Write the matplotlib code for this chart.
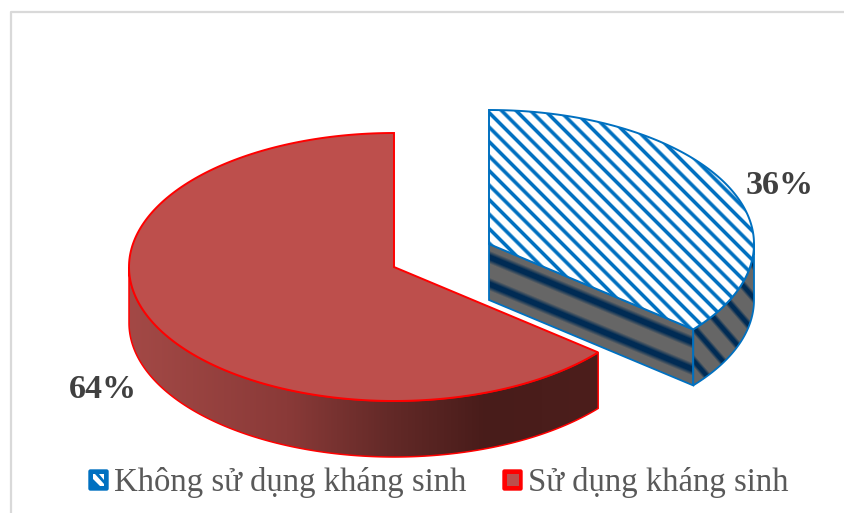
import numpy as np
import matplotlib
matplotlib.use("Agg")
import matplotlib.pyplot as plt
from matplotlib.patches import Polygon, FancyBboxPatch, Rectangle
from matplotlib.colors import LinearSegmentedColormap

# --------------------------------------
# DATA
# --------------------------------------

labels = ["Không sử dụng kháng sinh", "Sử dụng kháng sinh"]
shares = [36, 64]
share_labels = ["36%", "64%"]

plt.rcParams["font.family"] = ["Liberation Serif", "DejaVu Serif"]

# pie geometry, in pixels of the picture
RX, RY, DEPTH = 265, 134, 56
BLUE_C = (489, 244)
RED_C = (394, 267)
BLUE, RED, TOP_RED = "#0070c0", "#ff0000", "#bd4f4c"

fig = plt.figure(figsize=(8.45, 5.13), dpi=100)
ax = fig.add_axes([0, 0, 1, 1])
ax.set_xlim(0, 845)
ax.set_ylim(513, 0)
ax.axis("off")

# outer frame
ax.plot([11, 11, 845], [513, 12, 12], color="#d9d9d9", lw=1.6)


def arc(center, a0, a1, dy=0, n=200):
    # angles clockwise from north, in degrees
    t = np.radians(np.linspace(a0, a1, n))
    return np.column_stack([center[0] + RX * np.sin(t), center[1] - RY * np.cos(t) + dy])


cut = shares[0] / sum(shares) * 360
extent = (0, 845, 513, 0)
yy, xx = np.mgrid[0:513, 0:845] + 0.5


def bands(u, period):
    # soft dark stripes: 0 is grey, 1 is navy
    d = np.abs((u / period + 0.5) % 1 - 0.5) * period
    return np.clip(1.5 - d / 4.5, 0, 1)


grey = np.array([0.40, 0.40, 0.40])
navy = np.array([0.0, 0.17, 0.33])


def shade(m):
    return grey + m[..., None] * (navy - grey)


# --------------------------------------
# BLUE SLICE
# --------------------------------------

tip = arc(BLUE_C, cut, cut, n=1)[0]
slope = (tip[1] - BLUE_C[1]) / (tip[0] - BLUE_C[0])

# cut face, stripes run along the edge
front = [BLUE_C, tuple(tip), (tip[0], tip[1] + DEPTH), (BLUE_C[0], BLUE_C[1] + DEPTH)]
u = yy - (BLUE_C[1] + slope * (xx - BLUE_C[0])) - 13
im = ax.imshow(shade(bands(u, 27)), extent=extent, aspect="auto", zorder=2, interpolation="bilinear")
ax.add_patch(Polygon(front, closed=True, fc="none", ec=BLUE, lw=1.3, zorder=3))
im.set_clip_path(Polygon(front, closed=True, transform=ax.transData))

# round side
top = arc(BLUE_C, 90, cut)
rim = np.vstack([top, arc(BLUE_C, cut, 90, dy=DEPTH)])
im = ax.imshow(shade(bands(yy - 1.15 * xx + 503, 33)), extent=extent, aspect="auto", zorder=2, interpolation="bilinear")
im.set_clip_path(Polygon(rim, closed=True, transform=ax.transData))
ax.add_patch(Polygon(rim, closed=True, fc="none", ec=BLUE, lw=1.3, zorder=3))

# top face, white with diagonal stripes
face = np.vstack([[BLUE_C], arc(BLUE_C, 0, cut)])
d = np.abs(((yy - xx + 362) / 14.5 + 0.5) % 1 - 0.5) * 14.5
stripe = np.clip((3.6 - d) / 2.1, 0, 1)
white = np.array([1.0, 1.0, 1.0])
blue_rgb = np.array(matplotlib.colors.to_rgb(BLUE))
im = ax.imshow(white + stripe[..., None] * (blue_rgb - white), extent=extent, aspect="auto", zorder=4, interpolation="bilinear")
im.set_clip_path(Polygon(face, closed=True, transform=ax.transData))
ax.add_patch(Polygon(face, closed=True, fc="none", ec=BLUE, lw=1.4, zorder=5))

# --------------------------------------
# RED SLICE
# --------------------------------------

side = np.vstack([arc(RED_C, cut, 270), arc(RED_C, 270, cut, dy=DEPTH)])
red_side = LinearSegmentedColormap.from_list(
    "red_side",
    [(0, "#a34946"), (0.337, "#8a3a38"), (0.55, "#642a28"), (0.763, "#481c1a"), (1, "#4c1e1c")],
)
grad = np.linspace(0, 1, 256).reshape(1, -1)
im = ax.imshow(red_side(grad), extent=(129, 598, RED_C[1] + RY + DEPTH, RED_C[1]), aspect="auto", zorder=6)
im.set_clip_path(Polygon(side, closed=True, transform=ax.transData))
ax.add_patch(Polygon(side, closed=True, fc="none", ec=RED, lw=1.1, zorder=7))

face = np.vstack([[RED_C], arc(RED_C, cut, 360)])
ax.add_patch(Polygon(face, closed=True, fc=TOP_RED, ec=RED, lw=1.4, zorder=8))

ax.set_xlim(0, 845)
ax.set_ylim(513, 0)

# --------------------------------------
# LABELS AND LEGEND
# --------------------------------------

ax.text(780, 186, share_labels[0], fontsize=24.5, fontweight="bold", color="#404040", ha="center", va="center", zorder=10)
ax.text(103, 389, share_labels[1], fontsize=24.5, fontweight="bold", color="#404040", ha="center", va="center", zorder=10)

ax.add_patch(FancyBboxPatch((89, 470), 19, 20, boxstyle="round,pad=0,rounding_size=1.5", fc=BLUE, ec=BLUE, lw=1, zorder=10))
ax.add_patch(Polygon([(93, 474), (104, 474), (104, 486), (100, 486), (93, 479)], closed=True, fc="white", ec="none", zorder=11))
ax.add_patch(Polygon([(95, 474), (99, 474), (104, 480), (104, 484)], closed=True, fc=BLUE, ec="none", zorder=12))
ax.add_patch(FancyBboxPatch((503, 470), 19, 20, boxstyle="round,pad=0,rounding_size=1.5", fc=RED, ec=RED, lw=1, zorder=10))
ax.add_patch(Rectangle((507, 474), 12, 12, fc=TOP_RED, ec="none", zorder=11))

ax.text(114, 482, labels[0], fontsize=23.6, color="#595959", ha="left", va="center", zorder=10)
ax.text(528, 482, labels[1], fontsize=23.6, color="#595959", ha="left", va="center", zorder=10)

fig.savefig("out.png", dpi=100)
